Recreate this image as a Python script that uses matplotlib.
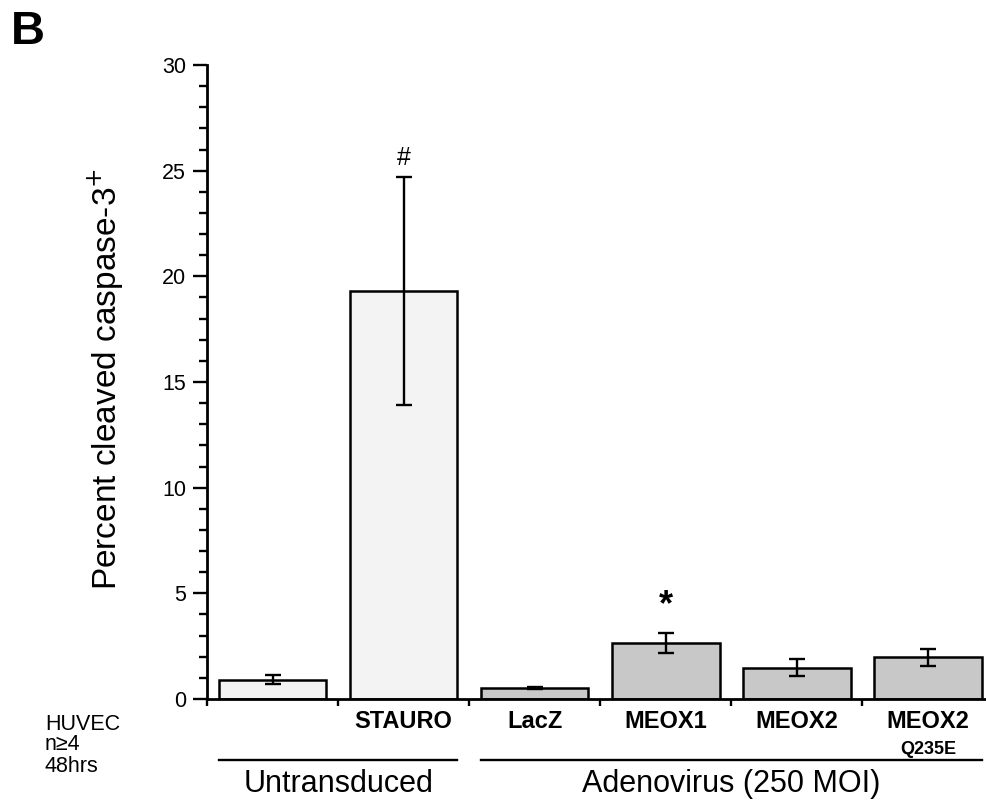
import matplotlib
matplotlib.use("Agg")
import matplotlib.pyplot as plt
from matplotlib.ticker import MultipleLocator
from matplotlib.transforms import blended_transform_factory

plt.rcParams["font.family"] = ["Liberation Sans", "DejaVu Sans"]

# data
labels = ["", "STAURO", "LacZ", "MEOX1", "MEOX2", "MEOX2"]
sublabels = ["", "", "", "", "", "Q235E"]
values = [0.92, 19.3, 0.52, 2.65, 1.48, 1.97]
errors = [0.20, 5.4, 0.07, 0.47, 0.41, 0.40]
colors = ["#f3f3f3", "#f3f3f3", "#c8c8c8", "#c8c8c8", "#c8c8c8", "#c8c8c8"]
marks = {1: "#", 3: "*"}
groups = [("Untransduced", 0, 1), ("Adenovirus (250 MOI)", 2, 5)]
notes = ["HUVEC", "n\u22654", "48hrs"]

bar_w = 0.82
fig = plt.figure(figsize=(9.87, 8.02), dpi=100)
ax = fig.add_axes([207 / 987, 1 - 699 / 802, 1 - 207 / 987, (699 - 65) / 802])

x = list(range(len(values)))
ax.bar(x, values, width=bar_w, color=colors, edgecolor="black", linewidth=1.8, zorder=2)
ax.errorbar(x, values, yerr=errors, fmt="none", ecolor="black", elinewidth=1.7,
            capsize=5.5, capthick=1.7, zorder=3)

for i, m in marks.items():
    top = values[i] + errors[i]
    if m == "*":
        ax.text(i, top + 1.3, m, ha="center", va="center", fontsize=26, fontweight="bold")
    else:
        ax.text(i, top + 0.9, m, ha="center", va="center", fontsize=18)

ax.set_xlim(-0.5, 5.45)
ax.set_ylim(0, 30)
ax.yaxis.set_major_locator(MultipleLocator(5))
ax.yaxis.set_minor_locator(MultipleLocator(1))
ax.set_xticks([i - 0.5 for i in range(len(values))])
ax.set_xticklabels([])
ax.tick_params(axis="y", which="major", length=10, width=1.7, labelsize=15.5, pad=5)
ax.tick_params(axis="y", which="minor", length=6, width=1.7)
ax.tick_params(axis="x", which="major", length=5, width=1.7, direction="out")
for s in ["top", "right"]:
    ax.spines[s].set_visible(False)
for s in ["left", "bottom"]:
    ax.spines[s].set_linewidth(2.0)
ax.set_ylabel("Percent cleaved caspase-3$^{+}$", fontsize=24)
ax.yaxis.set_label_coords(-0.104, 0.505)

tr = blended_transform_factory(ax.transData, fig.transFigure)
for i, (lab, sub) in enumerate(zip(labels, sublabels)):
    ax.text(i, 1 - 722 / 802, lab, transform=tr, ha="center", va="center",
            fontsize=17, fontweight="bold", clip_on=False)
    if sub:
        ax.text(i, 1 - 750 / 802, sub, transform=tr, ha="center", va="center",
                fontsize=13, fontweight="bold", clip_on=False)

for name, a, b in groups:
    x0 = a - bar_w / 2
    x1 = b + bar_w / 2
    ax.plot([x0, x1], [1 - 760 / 802] * 2, color="black", linewidth=1.7,
            transform=tr, clip_on=False)
    ax.text((a + b) / 2, 1 - 784 / 802, name, transform=tr, ha="center", va="center",
            fontsize=22, clip_on=False)

for k, t in enumerate(notes):
    fig.text(45 / 987, 1 - (724 + 21 * k) / 802, t, ha="left", va="center", fontsize=15.5)

fig.text(11 / 987, 1 - 32 / 802, "B", ha="left", va="center", fontsize=34, fontweight="bold")

fig.savefig("out.png", dpi=100)
